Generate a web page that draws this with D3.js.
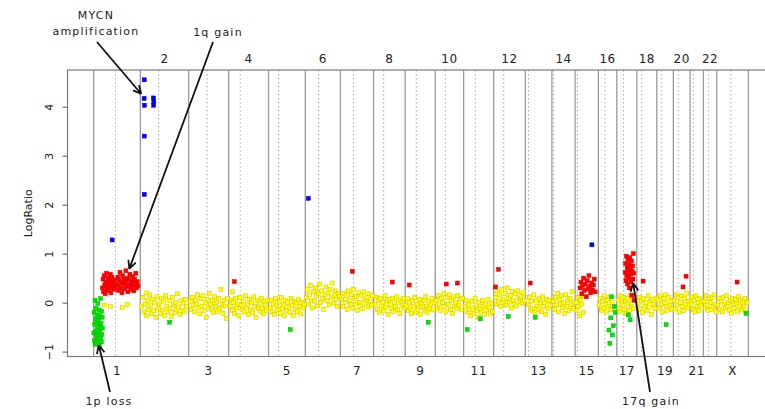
<!DOCTYPE html>
<html>
<head>
<meta charset="utf-8">
<title>aCGH genome profile</title>
<script src="https://d3js.org/d3.v7.min.js"></script>
<style>
  body { margin: 0; background: #fff; }
  svg text { font-family: "DejaVu Sans", sans-serif; fill: #222; }
  .note { font-size: 11px; letter-spacing: 1.2px; }
  .chr { font-size: 12px; letter-spacing: 0.5px; }
</style>
</head>
<body>
<div id="viz"></div>
<script>
// chromosomes, plotted length (Mb, incl. gaps) and centromere offset (Mb)
const chroms = ["1","2","3","4","5","6","7","8","9","10","11","12","13","14","15","16","17","18","19","20","21","22","X"];
const chromLen = [245,254,210,210,193,184,175,166,158,149,158,166,140,122,122,97,105,105,87,88,70,70,166];
const centromere = [114,96,97,61,53,70,70,53,58,53,61,53,17,8,12,35,35,26,26,26,17,26,74];
const yTicks = [-1, 0, 1, 2, 3, 4];

// probe runs: [chrom, from Mb, to Mb, call, log ratios x100 in genome order]
const segments = [
  ["1", 1, 46, "loss", [-62,-20,-78,-45,5,-85,-33,-58,-12,-70,-40,-82,-25,-55,-2,-66,-36,-75,-48,-15,-87,-60,-28,-50,8,-72,-42,-80,-18,-65,-30,-52]],
  ["1", 46, 114, "gain", [30,48,22,55,36,18,42,60,28,38,50,25,45,33,58,20,40,52,30,44,35,27,47,38]],
  ["1", 124, 232, "gain", [35,52,25,45,62,30,40,20,55,38,48,28,42,65,33,50,22,46,36,58,27,44,32,53,40,24,48,36,60,30,43,34]],
  ["2", 8, 242, "normal", [-7,11,-19,-3,-27,5,-14,16,-5,-23,7,-16,0,-30,12,-11,-3,-22,8,-15,3,-26,14,-7,-18,5,-12,-28,11,-4,-20,0,-14,18,-9,-24,4,-16,-1,-19,7,-8]],
  ["3", 9, 203, "normal", [3,-14,11,-5,-19,5,-3,16,-11,-23,8,-7,14,-16,0,-30,7,-9,19,-4,-15,4,-20,12,-8,1,-18,9,-12,27,-3,-22,5,-7,-32,8]],
  ["4", 9, 206, "normal", [-7,5,-16,0,-22,8,-11,-3,-27,11,-5,-14,3,-19,14,-9,-4,-24,7,-15,1,-20,12,-8,-30,4,-12,-1,-18,9,-11,-23,3,-5,-16,5]],
  ["5", 9, 187, "normal", [-11,4,-19,-3,-24,8,-7,-15,1,-22,11,-12,-4,-27,5,-16,0,-9,-20,9,-5,-26,3,-14,-1,-18,7,-8,-23,1,-11,-4]],
  ["6", 5, 179, "normal", [11,27,-3,16,35,5,-11,22,3,30,14,-7,19,38,0,24,8,-14,16,32,4,20,-5,27,11,40,-1,14,24,7,-8,19,12]],
  ["7", 8, 168, "normal", [7,-8,19,0,14,-14,24,4,-4,16,-11,27,8,-3,12,-16,20,1,-7,15,-12,22,5,-1,11,-9,18,3,-5,14]],
  ["8", 9, 161, "normal", [-3,11,-14,4,-20,8,-7,0,-16,14,-9,3,-24,7,-4,-12,9,-18,1,-8,12,-15,5,-22,0,-5,8,-11]],
  ["9", 5, 152, "normal", [-5,8,-16,0,-11,-22,4,-8,11,-19,-3,-14,7,-24,-1,-9,5,-16,12,-7,-20,3,-12,-4,8,-15,0]],
  ["10", 5, 142, "normal", [4,-11,14,-4,-16,8,0,19,-8,-19,11,-3,16,-14,5,-22,12,-7,1,-12,15,-5,7,-15,9]],
  ["11", 9, 151, "normal", [-8,5,-19,-3,-14,-27,3,-11,-22,8,-5,-16,-30,0,-12,-20,4,-8,-24,-4,-15,7,-9,-23,-1,-18]],
  ["12", 9, 161, "normal", [11,-3,22,3,16,-8,27,7,0,19,-5,30,9,1,15,-11,23,5,-4,18,-7,24,8,3,14,-1,20,4]],
  ["13", 16, 131, "normal", [-4,11,-16,3,-11,16,-20,5,-7,-14,8,-1,-19,12,-8,0,-24,7,-12,4,-5]],
  ["14", 7, 117, "normal", [3,-14,11,-5,19,-19,7,-3,14,-11,0,-22,16,-8,5,-16,9,-4,22,-12,1]],
  ["15", 5, 42, "normal", [0,-16,11,-8,-27,5,-3,14,-20]],
  ["15", 26, 105, "gain", [30,42,18,35,50,25,38,12,45,28,55,33,20,40,26,36,48,22]],
  ["16", 4, 72, "normal", [-5,8,-16,3,-11,14,-3,-19,5,-8,11,-14,0]],
  ["16", 56, 88, "loss", [-56,-83,-31,12,-66,-47,-8,-20]],
  ["17", 7, 91, "normal", [5,-11,14,-19,0,-5,11,-14,3,-22,8,-3,-16,16,-8,4,-12,7]],
  ["17", 44, 91, "gain", [62,80,45,95,55,72,38,88,66,50,78,30,92,58,70,42,85,15,64,75,48,100,60,5]],
  ["18", 7, 101, "normal", [-3,11,-14,4,-20,8,-7,0,-16,14,-9,3,-24,7,-4,-12,9]],
  ["19", 7, 80, "normal", [5,-11,14,-3,-19,8,0,16,-8,-16,11,-4,3,-14]],
  ["20", 4, 82, "normal", [4,-12,16,-5,11,-19,0,14,-8,-16,8,-3,19,-11,3]],
  ["21", 5, 63, "normal", [-3,11,-14,5,-19,14,-8,0,-16,8,-5,3]],
  ["22", 4, 67, "normal", [3,-11,14,-5,-16,8,0,-14,11,-8,16,-3,-19]],
  ["X", 7, 159, "normal", [-5,8,-14,3,-19,11,-3,-11,14,-8,0,-16,5,-22,9,-4,-12,7,-1,-18,12,-7,4,-15,1,-9,8,-20,0]]
];

// single probes: [chrom, Mb, log ratio, call]
const singles = [
  ["1", 56, -0.05, "normal"], ["1", 88, -0.08, "normal"], ["1", 150, -0.10, "normal"], ["1", 178, -0.04, "normal"],
  ["1", 97, 1.28, "amp"],
  ["2", 21, 4.55, "amp"], ["2", 20, 4.17, "amp"], ["2", 22, 4.03, "amp"], ["2", 21, 3.40, "amp"], ["2", 21, 2.21, "amp"],
  ["2", 69, 4.18, "amp"], ["2", 71, 4.10, "amp"], ["2", 70, 4.03, "amp"],
  ["2", 34, 0.20, "normal"], ["2", 154, -0.40, "loss"],
  ["4", 30, 0.43, "gain"], ["4", 20, 0.22, "normal"],
  ["5", 114, -0.55, "loss"],
  ["6", 16, 2.13, "amp"],
  ["7", 63, 0.64, "gain"],
  ["8", 98, 0.42, "gain"],
  ["9", 21, 0.36, "gain"], ["9", 121, -0.40, "loss"],
  ["10", 58, 0.38, "gain"], ["10", 116, 0.40, "gain"],
  ["11", 19, -0.55, "loss"], ["11", 88, -0.33, "loss"],
  ["12", 25, 0.68, "gain"], ["12", 10, 0.32, "gain"], ["12", 77, -0.28, "loss"],
  ["13", 26, 0.40, "gain"], ["13", 52, -0.30, "loss"],
  ["15", 88, 1.18, "amp"],
  ["17", 70, -0.35, "loss"], ["17", 60, -0.25, "loss"],
  ["18", 33, 0.44, "gain"],
  ["19", 49, -0.45, "loss"],
  ["20", 67, 0.54, "gain"], ["20", 51, 0.32, "gain"],
  ["X", 107, 0.42, "gain"], ["X", 154, -0.22, "loss"]
];

// annotations: text lines, where the text sits, where the arrow starts, and the probe it points at
const notes = [
  {lines: ["MYCN", "amplification"], tx: 96, ty: 19, x0: 97, y0: 42, chr: "2", mb: 5, lr: 4.26},
  {lines: ["1q gain"], tx: 218, ty: 36, x0: 213, y0: 42, chr: "1", mb: 187, lr: 0.69},
  {lines: ["1p loss"], tx: 109, ty: 405, x0: 110, y0: 392, chr: "1", mb: 27, lr: -0.87},
  {lines: ["17q gain"], tx: 651, ty: 405, x0: 650, y0: 392, chr: "17", mb: 86, lr: 0.40}
];

const callColor = {normal: "#ffff00", gain: "#ff0000", loss: "#00e600", amp: "#0000ff"};
const callEdge = {normal: "#d2c000", gain: "#e00000", loss: "#00b400", amp: "#0000cc"};
const callOrder = {normal: 0, loss: 1, gain: 1, amp: 2};

const W = 765, H = 409;
const starts = chromLen.map((d, i) => d3.sum(chromLen.slice(0, i)));
const total = d3.sum(chromLen);
const gpos = (c, mb) => starts[chroms.indexOf(c)] + mb;

// R style 4% padding on the genome axis
const x = d3.scaleLinear().domain([-0.04 * total, 1.04 * total]).range([67.5, 774.5]);
const y = d3.scaleLinear().domain([-1.1, 4.75]).range([356.5, 70]);

const svg = d3.select("#viz").append("svg")
    .attr("width", W)
    .attr("height", H);

// chromosome borders and centromeres
svg.append("g").selectAll("line")
  .data(starts.concat([total]))
  .join("line")
    .attr("x1", d => x(d)).attr("x2", d => x(d))
    .attr("y1", y.range()[1]).attr("y2", y.range()[0])
    .attr("stroke", "#9a9a9a")
    .attr("stroke-width", 1.3);

svg.append("g").selectAll("line")
  .data(centromere.map((d, i) => starts[i] + d))
  .join("line")
    .attr("x1", d => x(d)).attr("x2", d => x(d))
    .attr("y1", y.range()[1]).attr("y2", y.range()[0])
    .attr("stroke", "#a8a8a8")
    .attr("stroke-width", 1)
    .attr("stroke-dasharray", "1.5,2.5");

// probes
const probes = [];
segments.forEach(([c, from, to, call, vals]) => {
  vals.forEach((v, i) => {
    const t = vals.length > 1 ? i / (vals.length - 1) : 0.5;
    probes.push({pos: gpos(c, from + (to - from) * t), lr: v / 100, call});
  });
});
singles.forEach(([c, mb, lr, call]) => probes.push({pos: gpos(c, mb), lr, call}));
probes.sort((a, b) => callOrder[a.call] - callOrder[b.call]);

const s = 4;
svg.append("g").selectAll("rect")
  .data(probes)
  .join("rect")
    .attr("x", d => x(d.pos) - s / 2)
    .attr("y", d => y(d.lr) - s / 2)
    .attr("width", s)
    .attr("height", s)
    .attr("fill", d => callColor[d.call])
    .attr("stroke", d => callEdge[d.call])
    .attr("stroke-width", 0.5);

// frame
svg.append("rect")
    .attr("x", x.range()[0]).attr("y", y.range()[1])
    .attr("width", x.range()[1] - x.range()[0])
    .attr("height", y.range()[0] - y.range()[1])
    .attr("fill", "none")
    .attr("stroke", "#7a7a7a")
    .attr("stroke-width", 1.2);

// y axis
const yAxis = svg.append("g")
    .attr("transform", `translate(${x.range()[0]},0)`)
    .call(d3.axisLeft(y).tickValues(yTicks).tickSize(5).tickSizeOuter(0).tickFormat(d3.format("d")));
yAxis.select(".domain")
    .attr("d", `M0,${y(yTicks[0])}V${y(yTicks[yTicks.length - 1])}`)
    .attr("stroke", "#7a7a7a");
yAxis.selectAll(".tick line").attr("stroke", "#555");
yAxis.selectAll(".tick text")
    .attr("x", 0).attr("dy", 0)
    .attr("text-anchor", "middle")
    .attr("transform", "translate(-15,0) rotate(-90)")
    .style("font-size", "11px")
    .style("font-family", "DejaVu Sans, sans-serif")
    .attr("fill", "#222");

svg.append("text")
    .attr("transform", `translate(32,${(y.range()[0] + y.range()[1]) / 2}) rotate(-90)`)
    .attr("text-anchor", "middle")
    .style("font-size", "11px")
    .text("LogRatio");

// chromosome names: odd below, even above
svg.append("g").selectAll("text")
  .data(chroms)
  .join("text")
    .attr("class", "chr")
    .attr("x", (d, i) => x(starts[i] + chromLen[i] / 2))
    .attr("y", (d, i) => i % 2 === 0 ? 374.5 : 63)
    .attr("text-anchor", "middle")
    .text(d => d);

// annotations with R-style open arrowheads
const ann = svg.append("g");
notes.forEach(n => {
  n.lines.forEach((t, k) => {
    ann.append("text")
        .attr("class", "note")
        .attr("x", n.tx).attr("y", n.ty + k * 16)
        .attr("text-anchor", "middle")
        .text(t);
  });
  const x1 = x(gpos(n.chr, n.mb)), y1 = y(n.lr);
  const a = Math.atan2(y1 - n.y0, x1 - n.x0), len = 9, spread = Math.PI / 7;
  const head = [a + Math.PI - spread, a + Math.PI + spread]
      .map(b => `M${x1 + len * Math.cos(b)},${y1 + len * Math.sin(b)}L${x1},${y1}`).join("");
  ann.append("path")
      .attr("d", `M${n.x0},${n.y0}L${x1},${y1}` + head)
      .attr("fill", "none")
      .attr("stroke", "#111")
      .attr("stroke-width", 1.8);
});
</script>
</body>
</html>
